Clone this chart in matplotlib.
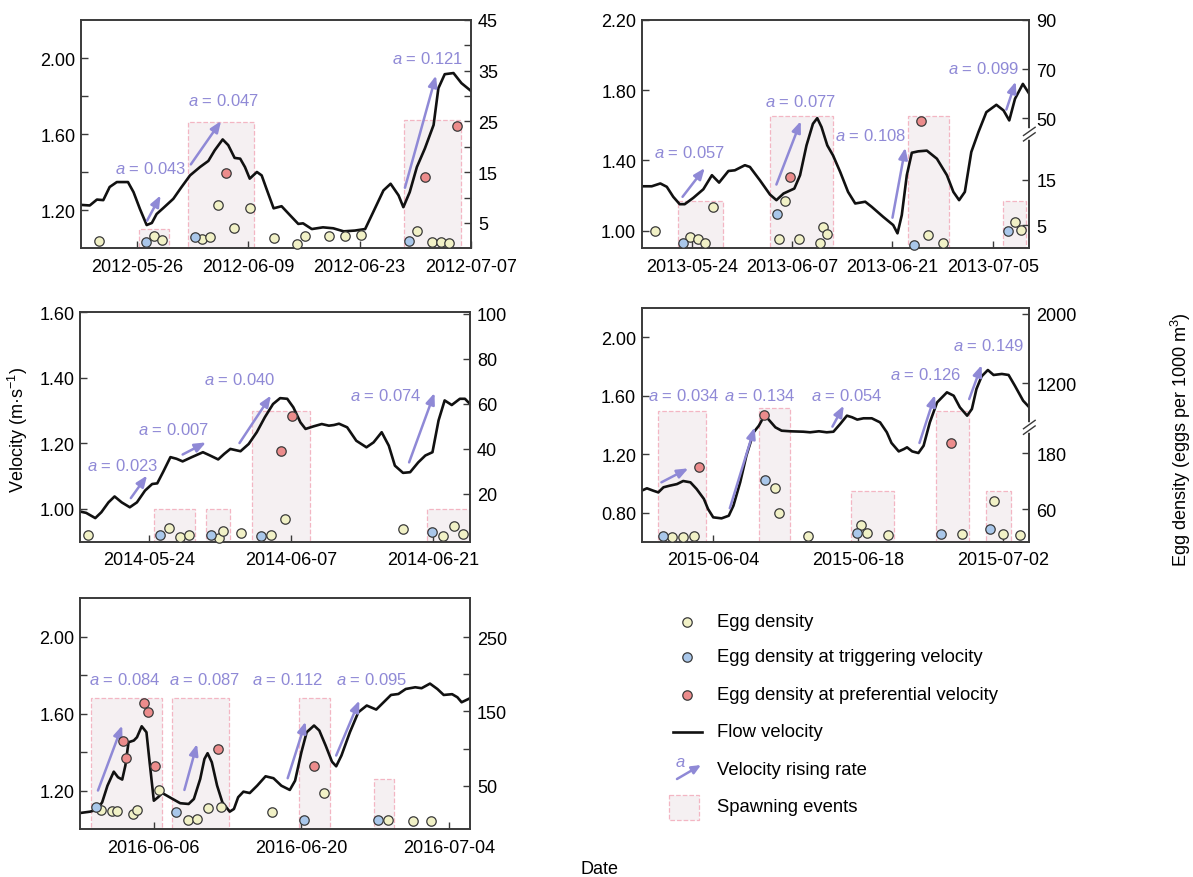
import numpy as np
import pandas as pd
import matplotlib
matplotlib.use("Agg")
import matplotlib.pyplot as plt
from matplotlib.ticker import FixedLocator, NullLocator, FormatStrFormatter
from matplotlib.patches import Rectangle

plt.rcParams.update({
    "font.family": ["Liberation Sans", "DejaVu Sans"],
    "mathtext.fontset": "custom",
    "mathtext.rm": "Liberation Sans",
    "mathtext.it": "Liberation Sans:italic",
    "font.size": 12,
    "axes.linewidth": 1.2,
    "axes.edgecolor": "#3a3a3a",
})

# ============================================================
# DATA  (x = days after t0, velocity in m/s, eggs per 1000 m3)
# ============================================================

# ---- 2012 ----
vel_2012 = [(0, 1.228), (1.1, 1.225), (2, 1.256), (2.8, 1.253), (3.6, 1.322), (4.5, 1.348),
            (5.9, 1.348), (6.6, 1.295), (7.4, 1.207), (8.25, 1.122), (8.9, 1.133), (9.5, 1.18),
            (10.3, 1.21), (11.6, 1.26), (12.6, 1.32), (13.7, 1.383), (14.95, 1.427), (16, 1.459),
            (16.8, 1.515), (17.8, 1.572), (18.5, 1.542), (19.3, 1.475), (20, 1.471), (20.6, 1.427),
            (21.2, 1.366), (22.1, 1.401), (22.7, 1.383), (23.3, 1.313), (24.2, 1.21), (25.2, 1.221),
            (26.3, 1.172), (27.3, 1.128), (27.9, 1.131), (29, 1.101), (30.4, 1.11), (31.7, 1.105),
            (33, 1.089), (34.4, 1.093), (35.7, 1.101), (36.7, 1.189), (38, 1.304), (38.9, 1.339),
            (39.9, 1.278), (40.5, 1.216), (41.3, 1.295), (42.2, 1.427), (43.2, 1.524), (44.3, 1.648),
            (44.9, 1.841), (45.7, 1.915), (46.8, 1.921), (47.8, 1.868), (49, 1.827)]
eggs_2012 = [(2.26, 1.4), (9.2, 2.5), (10.2, 1.7), (15.2, 1.8), (16.2, 2.3), (17.25, 8.6),
             (19.2, 4.0), (21.2, 7.9), (24.2, 2.1), (27.1, 0.9), (28.2, 2.4), (31.2, 2.5),
             (33.2, 2.5), (35.2, 2.7), (42.2, 3.4), (44.1, 1.3), (45.2, 1.3), (46.2, 1.0)]
trig_2012 = [(8.2, 1.2), (14.3, 2.2), (41.2, 1.5)]
pref_2012 = [(18.2, 14.8), (43.2, 14.0), (47.2, 24.1)]
spawn_2012 = [(7.3, 11.0, 1.101), (13.5, 21.7, 1.662), (40.6, 47.7, 1.674)]
rise_2012 = [(8.3, 1.145, 10.0, 1.278), (13.8, 1.441, 17.6, 1.669), (40.7, 1.318, 44.6, 1.908)]
rate_2012 = [0.043, 0.047, 0.121]
rate_pos_2012 = [(8.7, 1.422), (17.9, 1.78), (43.55, 2.0)]
dates_2012 = ["2012-05-26", "2012-06-09", "2012-06-23", "2012-07-07"]

# ---- 2013 ----
vel_2013 = [(0, 1.253), (1.4, 1.253), (2.6, 1.269), (3.5, 1.25), (4.4, 1.193), (5.3, 1.151),
            (6.0, 1.151), (7.2, 1.187), (8.6, 1.236), (9.8, 1.316), (10.8, 1.274), (12.1, 1.34),
            (13, 1.344), (14.4, 1.373), (15.1, 1.363), (16.5, 1.287), (17.9, 1.206), (18.8, 1.174),
            (19.8, 1.212), (21.3, 1.24), (22.1, 1.316), (23, 1.486), (23.9, 1.609), (24.5, 1.641),
            (25.1, 1.59), (25.9, 1.486), (26.7, 1.429), (27.7, 1.335), (28.8, 1.221), (29.8, 1.155),
            (31.2, 1.165), (32.1, 1.136), (33.7, 1.079), (35.1, 1.032), (35.7, 0.985), (36.3, 1.089),
            (37, 1.316), (37.7, 1.444), (38.6, 1.452), (39.8, 1.456), (41.2, 1.41), (42.6, 1.316),
            (43.5, 1.221), (44.3, 1.174), (45.1, 1.221), (46, 1.448), (47, 1.562), (48.1, 1.675),
            (49.5, 1.717), (50.5, 1.685), (51.3, 1.628), (52.1, 1.751), (53.2, 1.836), (54.1, 1.779)]
eggs_2013 = [(1.9, 3.7), (6.8, 2.5), (7.9, 2.0), (8.9, 1.1), (9.9, 9.1), (20, 10.3), (19.2, 2.0),
             (22, 2.0), (25.3, 4.7), (25.9, 3.1), (24.9, 1.1), (40, 2.8), (42.1, 1.2), (52.1, 5.8),
             (53, 4.0)]
trig_2013 = [(5.8, 1.2), (18.9, 7.5), (38, 0.8), (51.1, 3.7)]
pref_2013 = [(20.7, 15.7), (39, 48.7)]
spawn_2013 = [(5.1, 11.4, 1.172), (17.9, 26.7, 1.652), (37.1, 42.9, 1.652), (50.4, 53.7, 1.172)]
rise_2013 = [(5.7, 1.193, 8.8, 1.357), (18.8, 1.263, 22.2, 1.624), (35, 1.074, 36.8, 1.473),
             (50.9, 1.69, 52.2, 1.849)]
rate_2013 = [0.057, 0.077, 0.108, 0.099]
rate_pos_2013 = [(6.65, 1.448), (22.2, 1.741), (32, 1.543), (47.7, 1.925)]
dates_2013 = ["2013-05-24", "2013-06-07", "2013-06-21", "2013-07-05"]

# ---- 2014 ----
vel_2014 = [(0.2, 0.992), (0.8, 0.988), (1.7, 0.972), (2.3, 0.99), (3.0, 1.02), (3.6, 1.038),
            (4.3, 1.02), (5.1, 1.005), (5.8, 1.02), (6.6, 1.056), (7.3, 1.076), (7.8, 1.078),
            (8.4, 1.114), (9.1, 1.158), (9.7, 1.153), (10.3, 1.145), (11.2, 1.158), (12.3, 1.173),
            (13, 1.163), (13.8, 1.151), (14.4, 1.168), (15, 1.183), (16, 1.176), (16.8, 1.198),
            (17.6, 1.234), (18.4, 1.28), (19.2, 1.32), (19.9, 1.338), (20.6, 1.336), (21.2, 1.31),
            (21.9, 1.264), (22.4, 1.244), (23.2, 1.252), (24, 1.259), (24.7, 1.254), (25.2, 1.256),
            (25.7, 1.26), (26.5, 1.249), (27.4, 1.208), (28.4, 1.188), (29.1, 1.203), (29.9, 1.234),
            (30.6, 1.193), (31.2, 1.132), (32, 1.11), (32.7, 1.112), (33.5, 1.142), (34.2, 1.163),
            (34.9, 1.173), (35.5, 1.27), (36.1, 1.331), (36.8, 1.317), (37.6, 1.336), (38.1, 1.336),
            (38.6, 1.32)]
eggs_2014 = [(1.0, 1.5), (9.0, 4.6), (10, 1.0), (10.9, 1.8), (13.9, 0.4), (14.3, 3.5), (16, 2.6),
             (19, 1.5), (20.4, 8.6), (32, 4.3), (35.9, 1.3), (37, 5.8), (37.9, 2.3)]
trig_2014 = [(8.1, 1.8), (13.1, 1.8), (18, 1.2), (34.9, 2.8)]
pref_2014 = [(20, 39.1), (21.1, 54.7)]
spawn_2014 = [(7.5, 11.5, 1.0), (12.6, 15.0, 1.0), (17.1, 22.8, 1.30), (34.4, 38.6, 1.0)]
rise_2014 = [(5.2, 1.033, 6.8, 1.102), (10.3, 1.166, 12.6, 1.203), (15.9, 1.201, 19, 1.346),
             (32.6, 1.142, 35.1, 1.354)]
rate_2014 = [0.023, 0.007, 0.040, 0.074]
rate_pos_2014 = [(4.4, 1.134), (9.4, 1.244), (15.9, 1.395), (30.3, 1.348)]
dates_2014 = ["2014-05-24", "2014-06-07", "2014-06-21"]

# ---- 2015 ----
vel_2015 = [(0.1, 0.95), (0.6, 0.966), (1.2, 0.95), (1.7, 0.938), (2.2, 0.973), (2.8, 0.984),
            (3.5, 0.995), (4.1, 1.016), (4.8, 1.007), (5.4, 0.961), (6.1, 0.893), (6.5, 0.824),
            (7.0, 0.767), (7.8, 0.76), (8.5, 0.778), (8.95, 0.847), (9.6, 1.007), (10.2, 1.19),
            (10.9, 1.35), (11.4, 1.395), (11.85, 1.453), (12.3, 1.441), (13, 1.384), (13.6, 1.361),
            (14.4, 1.357), (15.7, 1.354), (16.35, 1.35), (17.2, 1.357), (17.95, 1.35), (18.6, 1.354),
            (19.25, 1.407), (19.9, 1.464), (20.4, 1.453), (20.9, 1.437), (21.5, 1.446), (22.3, 1.446),
            (23.1, 1.418), (23.75, 1.35), (24.2, 1.277), (24.9, 1.219), (25.4, 1.235), (25.7, 1.247),
            (26.2, 1.219), (26.8, 1.208), (27.3, 1.258), (27.9, 1.418), (28.6, 1.555), (29.55, 1.624),
            (30.2, 1.601), (30.8, 1.521), (31.5, 1.464), (31.96, 1.51), (32.4, 1.647), (32.9, 1.734),
            (33.5, 1.777), (34.05, 1.743), (34.85, 1.75), (35.5, 1.743), (36.1, 1.67), (36.9, 1.567),
            (37.5, 1.521)]
eggs_2015 = [(3.0, 1.1), (4.1, 1.1), (5.1, 1.8), (13, 104.5), (13.3, 51.4), (16.1, 2.5),
             (21.3, 26.2), (21.8, 9.7), (23.9, 4.0), (31, 6.1), (34.05, 76.5), (35, 6.1), (36.6, 4.0)]
trig_2015 = [(2.2, 2.5), (12.0, 122.5), (20.9, 8.3), (29, 6.1), (33.7, 16.9)]
pref_2015 = [(5.6, 149.8), (11.9, 838), (29.9, 202)]
spawn_2015 = [(1.71, 6.31, 1.496), (11.43, 14.36, 1.517), (20.31, 24.46, 0.945),
              (28.52, 31.64, 1.496), (33.32, 35.73, 0.945)]
rise_2015 = [(2, 1.007, 4.6, 1.103), (8.6, 0.829, 11, 1.384), (18.5, 1.389, 19.6, 1.533),
             (26.9, 1.277, 28.4, 1.606), (31.7, 1.578, 32.9, 1.811)]
rate_2015 = [0.034, 0.134, 0.054, 0.126, 0.149]
rate_pos_2015 = [(4.1, 1.606), (11.5, 1.606), (19.9, 1.606), (27.5, 1.75), (33.6, 1.949)]
dates_2015 = ["2015-06-04", "2015-06-18", "2015-07-02"]

# ---- 2016 ----
vel_2016 = [(0, 1.083), (0.95, 1.09), (1.6, 1.1), (2.1, 1.139), (2.6, 1.225), (3.2, 1.298),
            (3.6, 1.269), (4.0, 1.257), (4.3, 1.33), (4.6, 1.451), (5.1, 1.46), (5.4, 1.477),
            (5.85, 1.534), (6.3, 1.503), (6.6, 1.347), (7.0, 1.147), (7.4, 1.165), (7.8, 1.187),
            (8.5, 1.165), (9.5, 1.134), (10.3, 1.13), (10.8, 1.156), (11.4, 1.26), (11.8, 1.364),
            (12.1, 1.394), (12.5, 1.347), (13, 1.226), (13.5, 1.139), (14.2, 1.09), (14.6, 1.104),
            (15, 1.165), (15.5, 1.194), (16.1, 1.187), (16.8, 1.225), (17.6, 1.274), (18.35, 1.264),
            (19.1, 1.225), (19.9, 1.203), (20.4, 1.251), (21, 1.399), (21.5, 1.503), (22.2, 1.538),
            (22.7, 1.512), (23.3, 1.434), (23.9, 1.35), (24.3, 1.326), (24.8, 1.382), (25.6, 1.503),
            (26.4, 1.607), (27.2, 1.642), (28.1, 1.621), (28.8, 1.659), (29.5, 1.697), (30.2, 1.702),
            (30.9, 1.728), (31.8, 1.737), (32.4, 1.732), (33.2, 1.756), (33.9, 1.728), (34.5, 1.697),
            (35.3, 1.701), (35.8, 1.685), (36.2, 1.659), (37, 1.68)]
eggs_2016 = [(2.0, 17.3), (3.0, 15.5), (3.5, 15.5), (5.0, 11.8), (5.4, 17.3), (7.5, 44.2),
             (10.2, 4.2), (11.1, 5.1), (12.1, 19.9), (13.4, 21.7), (18.2, 15.1), (23.1, 39.7),
             (29.2, 4.2), (31.6, 2.8), (33.3, 2.8)]
trig_2016 = [(1.5, 20.8), (9.1, 14), (21.2, 3.7), (28.3, 3.7)]
pref_2016 = [(4.1, 110.7), (4.4, 87.3), (6.1, 161), (6.4, 148.9), (7.1, 77), (13.1, 99.4), (22.2, 77)]
spawn_2016 = [(1.04, 7.75, 1.683), (8.7, 14.1, 1.683), (20.8, 23.7, 1.683), (27.9, 29.8, 1.26)]
rise_2016 = [(1.7, 1.2, 4, 1.538), (9.9, 1.203, 11.1, 1.442), (19.7, 1.264, 21.4, 1.558),
             (24.3, 1.382, 26.5, 1.668)]
rate_2016 = [0.084, 0.087, 0.112, 0.095]
rate_pos_2016 = [(4.2, 1.78), (11.8, 1.78), (19.7, 1.78), (27.7, 1.78)]
dates_2016 = ["2016-06-06", "2016-06-20", "2016-07-04"]

# ============================================================
# STYLE
# ============================================================

C_EGG = "#f1f1c6"
C_TRIG = "#a9c7ea"
C_PREF = "#ec8c8c"
C_EDGE = "#3a3a3a"
C_RATE = "#8f89d6"
C_SPAWN_FACE = "#f5f0f2"
C_SPAWN_EDGE = "#f3b6c3"
DOT = 46


def broken_scale(lo0, lo1, hi0, hi1, f):
    # two linear pieces glued together at axes fraction f
    def fwd(y):
        y = np.asarray(y, float)
        lo = f * (y - lo0) / (lo1 - lo0)
        hi = f + (1 - f) * (y - hi0) / (hi1 - hi0)
        return np.where(y <= lo1, lo, np.where(y >= hi0, hi, f))

    def inv(z):
        z = np.asarray(z, float)
        return np.where(z <= f, lo0 + (lo1 - lo0) * z / f,
                        hi0 + (hi1 - hi0) * (z - f) / (1 - f))
    return fwd, inv


def break_marks(ax, f):
    ax.plot([1, 1], [f - 0.012, f + 0.012], color="white", lw=4,
            transform=ax.transAxes, clip_on=False, zorder=10)
    for dy in (-0.012, 0.012):
        ax.plot([0.985, 1.015], [f + dy - 0.018, f + dy + 0.018], color=C_EDGE, lw=1.0,
                transform=ax.transAxes, clip_on=False, zorder=11)


def draw_panel(rect, t0, xlim, vel, eggs, trig, pref, spawn, rise, rates, rate_pos, dates,
               vlim, vticks, vminor, elim, eticks, eminor=None, ebreak=None):
    ax = fig.add_axes(rect)
    t0 = pd.Timestamp(t0)

    ymin = vlim[0]
    for s, e, top in spawn:
        ax.bar(s, top - ymin, width=e - s, bottom=ymin, align="edge",
               facecolor=C_SPAWN_FACE, edgecolor=C_SPAWN_EDGE, linestyle="--",
               linewidth=0.9, zorder=1)

    v = np.array(vel)
    ax.plot(v[:, 0], v[:, 1], color="#111111", lw=1.9, zorder=3)

    for (x0, y0, x1, y1), a, (tx, ty) in zip(rise, rates, rate_pos):
        ax.annotate("", xy=(x1, y1), xytext=(x0, y0),
                    arrowprops=dict(arrowstyle="-|>,head_length=0.55,head_width=0.22",
                                    color=C_RATE, lw=1.8, shrinkA=0, shrinkB=0),
                    zorder=4)
        ax.text(tx, ty, f"$a$ = {a:.3f}", ha="center", va="center",
                color=C_RATE, fontsize=12, zorder=5)

    ax.set_xlim(*xlim)
    ax.set_ylim(*vlim)
    ax.xaxis.set_major_locator(FixedLocator([(pd.Timestamp(d) - t0).days for d in dates]))
    ax.set_xticklabels(dates)
    ax.yaxis.set_major_locator(FixedLocator(vticks))
    ax.yaxis.set_minor_locator(FixedLocator(vminor) if vminor else NullLocator())
    ax.yaxis.set_major_formatter(FormatStrFormatter("%.2f"))
    ax.tick_params(axis="both", which="both", direction="in", length=5, width=1,
                   color=C_EDGE, labelsize=13)
    ax.tick_params(axis="x", pad=7)
    ax.tick_params(axis="y", pad=4)

    ax2 = ax.twinx()
    if ebreak is not None:
        ax2.set_yscale("function", functions=broken_scale(*ebreak))
    ax2.set_ylim(*elim)
    for pts, col in ((eggs, C_EGG), (trig, C_TRIG), (pref, C_PREF)):
        p = np.array(pts)
        ax2.scatter(p[:, 0], p[:, 1], s=DOT, facecolor=col, edgecolor=C_EDGE,
                    linewidth=0.9, zorder=6, clip_on=False)
    ax2.yaxis.set_major_locator(FixedLocator(eticks))
    ax2.yaxis.set_minor_locator(FixedLocator(eminor) if eminor else NullLocator())
    ax2.yaxis.set_major_formatter(FormatStrFormatter("%d"))
    ax2.tick_params(axis="y", which="both", direction="in", length=5, width=1,
                    color=C_EDGE, labelsize=13, pad=5)
    if ebreak is not None:
        break_marks(ax2, ebreak[4])
    return ax, ax2


fig = plt.figure(figsize=(11.93, 8.78), dpi=100)

draw_panel([0.0679, 0.7161, 0.3269, 0.2600], "2012-05-19", (0, 49),
           vel_2012, eggs_2012, trig_2012, pref_2012, spawn_2012, rise_2012,
           rate_2012, rate_pos_2012, dates_2012,
           (1.0, 2.2), [1.2, 1.6, 2.0], [1.4, 1.8], (0, 45), [5, 15, 25, 35, 45],
           [10, 20, 30, 40])

draw_panel([0.5379, 0.7161, 0.3249, 0.2600], "2013-05-17", (0, 54.1),
           vel_2013, eggs_2013, trig_2013, pref_2013, spawn_2013, rise_2013,
           rate_2013, rate_pos_2013, dates_2013,
           (0.9, 2.2), [1.0, 1.4, 1.8, 2.2], None, (0, 90), [5, 15, 50, 70, 90],
           ebreak=(0, 25, 43.5, 90, 0.5))

draw_panel([0.0671, 0.3819, 0.3269, 0.2613], "2014-05-17", (0.2, 38.6),
           vel_2014, eggs_2014, trig_2014, pref_2014, spawn_2014, rise_2014,
           rate_2014, rate_pos_2014, dates_2014,
           (0.9, 1.6), [1.0, 1.2, 1.4, 1.6], None, (-1.3, 100.7), [20, 40, 60, 80, 100])

draw_panel([0.5379, 0.3819, 0.3249, 0.2658], "2015-05-28", (0.1, 37.5),
           vel_2015, eggs_2015, trig_2015, pref_2015, spawn_2015, rise_2015,
           rate_2015, rate_pos_2015, dates_2015,
           (0.6, 2.2), [0.8, 1.2, 1.6, 2.0], None, (-10, 2065), [60, 180, 1200, 2000],
           ebreak=(-10, 236, 692, 2065, 0.49))

draw_panel([0.0671, 0.0547, 0.3269, 0.2628], "2016-05-30", (0, 37),
           vel_2016, eggs_2016, trig_2016, pref_2016, spawn_2016, rise_2016,
           rate_2016, rate_pos_2016, dates_2016,
           (1.0, 2.2), [1.2, 1.6, 2.0], [1.4, 1.8], (-8.4, 302.6), [50, 150, 250],
           [100, 200])

# ============================================================
# SHARED LABELS AND LEGEND (pixel coordinates)
# ============================================================

ov = fig.add_axes([0, 0, 1, 1])
ov.set_xlim(0, 1193)
ov.set_ylim(878, 0)
ov.axis("off")

ov.text(18, 430, "Velocity (m·s$^{-1}$)", rotation=90, ha="center", va="center", fontsize=13)
ov.text(1181, 440, "Egg density (eggs per 1000 m$^{3}$)", rotation=90,
        ha="center", va="center", fontsize=13)
ov.text(600, 870, "Date", ha="center", va="center", fontsize=13)

leg_x, txt_x = 687, 717
rows = [623, 658, 696, 733, 771, 808]
labels = ["Egg density", "Egg density at triggering velocity",
          "Egg density at preferential velocity", "Flow velocity",
          "Velocity rising rate", "Spawning events"]
for y, col in zip(rows[:3], (C_EGG, C_TRIG, C_PREF)):
    ov.scatter([leg_x], [y], s=DOT, facecolor=col, edgecolor=C_EDGE, linewidth=0.9)
ov.plot([673, 702], [rows[3], rows[3]], color="#111111", lw=1.9)
ov.annotate("", xy=(701, 766), xytext=(677, 780),
            arrowprops=dict(arrowstyle="-|>,head_length=0.45,head_width=0.2",
                            color=C_RATE, lw=1.8, shrinkA=0, shrinkB=0))
ov.text(680, 763, "$a$", color=C_RATE, fontsize=12, ha="center", va="center",
        fontweight="bold")
ov.add_patch(Rectangle((669, 796), 30, 25, facecolor=C_SPAWN_FACE, edgecolor=C_SPAWN_EDGE,
                       linestyle="--", linewidth=0.9))
for y, lab in zip(rows, labels):
    ov.text(txt_x, y, lab, ha="left", va="center", fontsize=13.3)

fig.savefig("out.png", dpi=100)
